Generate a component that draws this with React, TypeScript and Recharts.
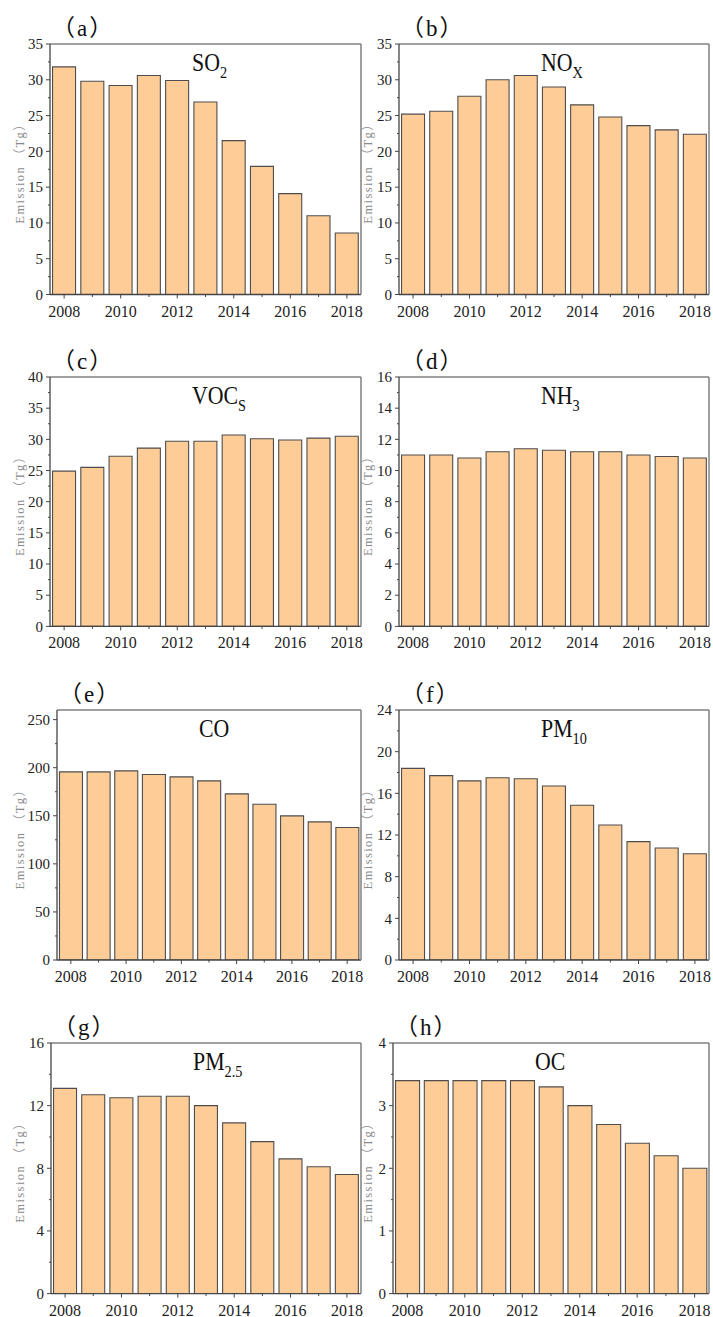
import React from 'react';
import { BarChart, Bar, XAxis, YAxis } from 'recharts';

// 年份
const years = ['2008', '2009', '2010', '2011', '2012', '2013', '2014', '2015', '2016', '2017', '2018'];

// 排放量 (Tg)
const so2 = [31.8, 29.8, 29.2, 30.6, 29.9, 26.9, 21.5, 17.9, 14.1, 11.0, 8.6];
const nox = [25.2, 25.6, 27.7, 30.0, 30.6, 29.0, 26.5, 24.8, 23.6, 23.0, 22.4];
const vocs = [24.9, 25.5, 27.3, 28.6, 29.7, 29.7, 30.7, 30.1, 29.9, 30.2, 30.5];
const nh3 = [11.0, 11.0, 10.8, 11.2, 11.4, 11.3, 11.2, 11.2, 11.0, 10.9, 10.8];
const co = [195.6, 195.6, 196.7, 192.9, 190.4, 186.3, 172.8, 162.0, 149.9, 143.7, 137.8];
const pm10 = [18.4, 17.7, 17.2, 17.5, 17.4, 16.7, 14.85, 12.96, 11.36, 10.75, 10.2];
const pm25 = [13.1, 12.7, 12.5, 12.6, 12.6, 12.0, 10.9, 9.7, 8.6, 8.1, 7.6];
const oc = [3.4, 3.4, 3.4, 3.4, 3.4, 3.3, 3.0, 2.7, 2.4, 2.2, 2.0];

// 纵轴主刻度
const ticks35 = [0, 5, 10, 15, 20, 25, 30, 35];
const ticks40 = [0, 5, 10, 15, 20, 25, 30, 35, 40];
const ticks16 = [0, 2, 4, 6, 8, 10, 12, 14, 16];
const ticks250 = [0, 50, 100, 150, 200, 250];
const ticks24 = [0, 4, 8, 12, 16, 20, 24];
const ticks16b = [0, 4, 8, 12, 16];
const ticks4 = [0, 1, 2, 3, 4];

// 横轴标注年份
const yearLabels = ['2008', '2010', '2012', '2014', '2016', '2018'];

const FILL = '#FECC96';
const BAR_STROKE = '#4d4d4d';
const AXIS = '#444';
const FRAME = '#808080';
const SERIF = "'Liberation Serif', 'Noto Sans CJK SC', serif";

const ML = 50;
const MT = 45;
const MR = 6;
const XH = 30;

interface PanelCfg {
  tag: string;
  name: string;
  sub: string;
  values: number[];
  max: number;
  ticks: number[];
  x0: number;
  y0: number;
  x1: number;
  y1: number;
  labelX: number;
}

const panels: PanelCfg[] = [
  { tag: '（a）', name: 'SO', sub: '2', values: so2, max: 35, ticks: ticks35, x0: 50, y0: 43.5, x1: 361, y1: 294, labelX: 20 },
  { tag: '（b）', name: 'NO', sub: 'X', values: nox, max: 35, ticks: ticks35, x0: 399, y0: 43.5, x1: 709, y1: 294, labelX: 368 },
  { tag: '（c）', name: 'VOC', sub: 'S', values: vocs, max: 40, ticks: ticks40, x0: 50, y0: 377.3, x1: 361, y1: 626.7, labelX: 20 },
  { tag: '（d）', name: 'NH', sub: '3', values: nh3, max: 16, ticks: ticks16, x0: 399, y0: 377.3, x1: 709, y1: 626.7, labelX: 368 },
  { tag: '（e）', name: 'CO', sub: '', values: co, max: 260, ticks: ticks250, x0: 57, y0: 710, x1: 361, y1: 960, labelX: 20 },
  { tag: '（f）', name: 'PM', sub: '10', values: pm10, max: 24, ticks: ticks24, x0: 399, y0: 710, x1: 709, y1: 960, labelX: 368 },
  { tag: '（g）', name: 'PM', sub: '2.5', values: pm25, max: 16, ticks: ticks16b, x0: 51, y0: 1042.7, x1: 361, y1: 1293.3, labelX: 20 },
  { tag: '（h）', name: 'OC', sub: '', values: oc, max: 4, ticks: ticks4, x0: 393, y0: 1042.7, x1: 709, y1: 1293.3, labelX: 368 },
];

// 主刻度之间加一个次刻度
const withMinor = (major: number[]) => {
  const out: number[] = [];
  major.forEach((v, i) => {
    out.push(v);
    if (i < major.length - 1) out.push((v + major[i + 1]) / 2);
  });
  return out;
};

const YTick = (props: any) => {
  const { x, y, payload, majors } = props;
  const isMajor = majors.includes(payload.value);
  return (
    <g>
      <line x1={x - (isMajor ? 4 : 2)} x2={x} y1={y} y2={y} stroke={AXIS} strokeWidth={1} />
      {isMajor && (
        <text x={x - 7} y={y} dy="0.35em" textAnchor="end" fontSize={15} fontFamily={SERIF} fill="#222">
          {payload.value}
        </text>
      )}
    </g>
  );
};

const XTick = (props: any) => {
  const { x, y, payload } = props;
  const isMajor = yearLabels.includes(payload.value);
  return (
    <g>
      <line x1={x} x2={x} y1={y} y2={y + (isMajor ? 4 : 2.5)} stroke={AXIS} strokeWidth={1} />
      {isMajor && (
        <text x={x} y={y + 22} textAnchor="middle" fontSize={16} fontFamily={SERIF} fill="#222">
          {payload.value}
        </text>
      )}
    </g>
  );
};

const Panel: React.FC<{ cfg: PanelCfg }> = ({ cfg }) => {
  const w = cfg.x1 - cfg.x0 + ML + MR;
  const h = cfg.y1 - cfg.y0 + MT + XH;
  const data = years.map((year, i) => ({ year, v: cfg.values[i] }));
  const allTicks = withMinor(cfg.ticks);
  const plotH = cfg.y1 - cfg.y0;

  return (
    <div style={{ position: 'absolute', left: cfg.x0 - ML, top: cfg.y0 - MT, width: w, height: h }}>
      <BarChart width={w} height={h} data={data} margin={{ top: MT - 1, right: MR - 1, bottom: 0, left: 0 }} barCategoryGap="9%">
        <XAxis
          xAxisId="b"
          dataKey="year"
          height={XH}
          interval={0}
          tickSize={0}
          tickMargin={0}
          tickLine={false}
          axisLine={{ stroke: AXIS, strokeWidth: 1.3 }}
          tick={(p: any) => <XTick {...p} />}
        />
        <XAxis
          xAxisId="t"
          dataKey="year"
          orientation="top"
          height={1}
          tick={false}
          tickLine={false}
          axisLine={{ stroke: FRAME, strokeWidth: 1.5 }}
        />
        <YAxis
          yAxisId="l"
          width={ML}
          domain={[0, cfg.max]}
          ticks={allTicks}
          interval={0}
          tickSize={0}
          tickMargin={0}
          tickLine={false}
          allowDataOverflow
          axisLine={{ stroke: AXIS, strokeWidth: 1.3 }}
          tick={(p: any) => <YTick {...p} majors={cfg.ticks} />}
        />
        <YAxis
          yAxisId="r"
          orientation="right"
          width={1}
          domain={[0, cfg.max]}
          tick={false}
          tickLine={false}
          axisLine={{ stroke: FRAME, strokeWidth: 1.5 }}
        />
        <Bar
          dataKey="v"
          xAxisId="b"
          yAxisId="l"
          fill={FILL}
          stroke={BAR_STROKE}
          strokeWidth={1.1}
          isAnimationActive={false}
        />
      </BarChart>
      <svg width={w} height={h} style={{ position: 'absolute', left: 0, top: 0, pointerEvents: 'none', overflow: 'visible' }}>
        <text x={ML + 2} y={MT - 8} fontSize={23} letterSpacing={2} fontFamily={SERIF} fill="#111">
          {cfg.tag}
        </text>
        <g transform={`translate(${ML + 142}, ${MT + 27}) scale(0.84, 1)`}>
          <text x={0} y={0} fontSize={26} fontFamily={SERIF} fill="#111">
            {cfg.name}
            {cfg.sub && (
              <tspan dy={7} fontSize={17}>
                {cfg.sub}
              </tspan>
            )}
          </text>
        </g>
        <text
          transform={`translate(${cfg.labelX - (cfg.x0 - ML)}, ${MT + plotH / 2 + 1}) rotate(-90)`}
          textAnchor="middle"
          dominantBaseline="central"
          fontSize={12.5}
          letterSpacing={1.4}
          fontFamily={SERIF}
          fill="#8a8a8a"
        >
          Emission （Tg）
        </text>
      </svg>
    </div>
  );
};

export default function App() {
  return (
    <div style={{ position: 'absolute', left: 0, top: 0, width: 713, height: 1317, background: '#fff' }}>
      {panels.map((cfg) => (
        <Panel key={cfg.tag} cfg={cfg} />
      ))}
    </div>
  );
}
